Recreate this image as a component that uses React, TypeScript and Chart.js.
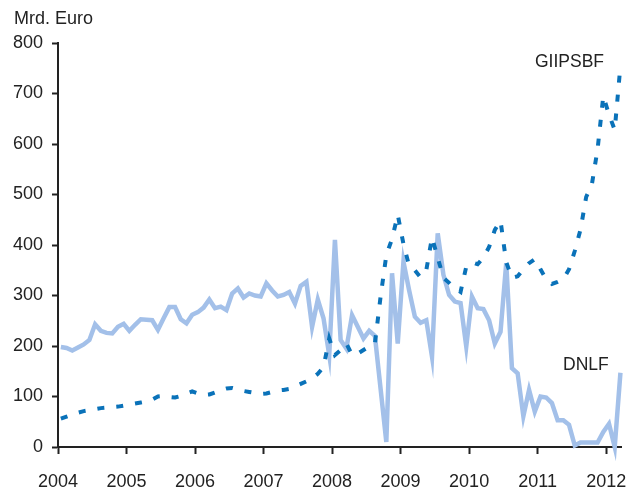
import React, { useEffect, useRef } from "react";
import { Chart, registerables } from "chart.js";

Chart.register(...registerables);

const yearLabels = ["2004", "2005", "2006", "2007", "2008", "2009", "2010", "2011", "2012"];
const yTicks = [0, 100, 200, 300, 400, 500, 600, 700, 800];

// Monthly values, Jan 2004 – Mar 2012 (Mrd. Euro)
const dnlf = [
  198, 196, 191, 197, 203, 212, 243, 230, 226, 225, 238, 244,
  230, 242, 253, 252, 251, 232, 255, 277, 277, 253, 245, 262,
  267, 276, 292, 275, 278, 271, 304, 314, 296, 304, 300, 298,
  324, 310, 298, 301, 307, 284, 319, 327, 238, 292, 255, 182,
  410, 212, 195, 261, 238, 215, 230, 220, 115, 10, 344, 205,
  367, 310, 258, 246, 251, 179, 423, 341, 301, 288, 285, 199,
  298, 275, 273, 251, 205, 228, 364, 156, 146, 61, 113, 70,
  100, 98, 87, 53, 53, 44, 3, 9, 9, 9, 9, 30,
  46, 0, 147,
];

const giipsbf = [
  56, 60, 64, 68, 71, 73, 75, 77, 78, 79, 80, 82,
  84, 86, 88, 90, 94, 100, 101, 99, 98, 101, 106, 110,
  106, 103, 104, 108, 113, 116, 117, 114, 111, 109, 107, 105,
  106, 109, 112, 113, 115, 120, 125, 130, 136, 145, 158, 215,
  182, 192, 205, 182, 185, 192, 199, 205, 298, 380, 412, 460,
  402, 358, 350, 336, 350, 415, 375, 335, 325, 314, 307, 357,
  366, 362, 375, 396, 430, 448, 366, 335, 338, 352, 364, 372,
  352, 332, 323, 327, 332, 352, 388, 430, 495, 520, 590, 695,
  658, 628, 755,
];

const seriesNames = ["GIIPSBF", "DNLF"];
const unitLabel = "Mrd. Euro";

const FONT = "'Liberation Sans', Arial, Helvetica, sans-serif";
const TEXT = "#222222";

const toPoints = (arr: number[]) => arr.map((v, i) => ({ x: i + 0.5, y: v }));

const labelPlugin = {
  id: "labels",
  afterDraw(chart: any) {
    const ctx = chart.ctx;
    ctx.save();
    ctx.fillStyle = TEXT;
    ctx.font = `18px ${FONT}`;
    ctx.textBaseline = "alphabetic";
    ctx.textAlign = "left";
    ctx.fillText(unitLabel, 14, 24);
    ctx.font = `17.5px ${FONT}`;
    ctx.fillText(seriesNames[0], 535, 67);
    ctx.fillText(seriesNames[1], 563, 370);
    ctx.restore();
  },
};

export default function App() {
  const ref = useRef<HTMLCanvasElement | null>(null);
  useEffect(() => {
    document.body.style.margin = "0";
    const canvas = ref.current!;
    const chart = new Chart(canvas, {
      type: "line",
      data: {
        datasets: [
          {
            label: seriesNames[0],
            data: toPoints(giipsbf),
            borderColor: "#0a72b9",
            borderWidth: 4,
            borderDash: [7, 12],
            borderCapStyle: "butt",
            pointRadius: 0,
            tension: 0,
            fill: false,
            clip: false,
            order: 0,
          },
          {
            label: seriesNames[1],
            data: toPoints(dnlf),
            borderColor: "#a3c0e9",
            borderWidth: 4.5,
            pointRadius: 0,
            tension: 0,
            fill: false,
            clip: false,
            order: 1,
          },
        ],
      },
      options: {
        responsive: false,
        animation: false,
        layout: { padding: { top: 43, right: 5, bottom: 0, left: 0 } },
        plugins: { legend: { display: false }, tooltip: { enabled: false }, title: { display: false } },
        scales: {
          x: {
            type: "linear",
            min: 0,
            max: 98.6,
            afterFit: (s: any) => {
              s.height = 42;
              s.paddingLeft = 0;
              s.paddingRight = 0;
              s.paddingTop = 0;
              s.paddingBottom = 0;
            },
            afterBuildTicks: (s: any) => {
              s.ticks = yearLabels.map((_, i) => ({ value: i * 12 }));
            },
            ticks: {
              autoSkip: false,
              maxRotation: 0,
              padding: 17,
              color: TEXT,
              font: { size: 18, family: FONT },
              callback: (v: any) => yearLabels[Math.round(Number(v) / 12)] ?? "",
            },
            grid: { drawOnChartArea: false, drawTicks: true, tickLength: 7, tickWidth: 2, tickColor: "#222" },
            border: { display: true, color: "#222", width: 2 },
          },
          y: {
            type: "linear",
            min: 0,
            max: 800,
            afterFit: (s: any) => {
              s.width = 58;
              s.paddingTop = 0;
              s.paddingBottom = 0;
            },
            afterBuildTicks: (s: any) => {
              s.ticks = yTicks.map((v) => ({ value: v }));
            },
            ticks: {
              padding: 9,
              color: TEXT,
              font: { size: 18, family: FONT },
            },
            grid: { drawOnChartArea: false, drawTicks: true, tickLength: 6, tickWidth: 2, tickColor: "#222" },
            border: { display: true, color: "#222", width: 2 },
          },
        },
      },
      plugins: [labelPlugin],
    } as any);
    return () => chart.destroy();
  }, []);
  return (
    <div style={{ position: "absolute", left: 0, top: 0, width: 626, height: 489, background: "#fff" }}>
      <canvas ref={ref} width={626} height={489} style={{ display: "block" }} />
    </div>
  );
}
